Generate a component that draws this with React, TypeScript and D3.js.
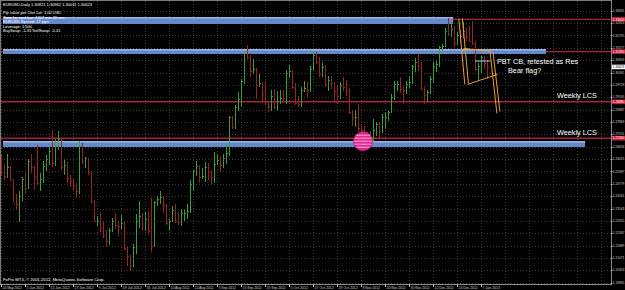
import React from "react";
import * as d3 from "d3";

const barDates = ["May24","May25","May28","May29","May30","May31","Jun1","Jun4","Jun5","Jun6","Jun7","Jun8","Jun11","Jun12","Jun13","Jun14","Jun15","Jun18","Jun19","Jun20","Jun21","Jun22","Jun25","Jun26","Jun27","Jun28","Jun29","Jul2","Jul3","Jul4","Jul5","Jul6","Jul9","Jul10","Jul11","Jul12","Jul13","Jul16","Jul17","Jul18","Jul19","Jul20","Jul23","Jul24","Jul25","Jul26","Jul27","Jul30","Jul31","Aug1","Aug2","Aug3","Aug6","Aug7","Aug8","Aug9","Aug10","Aug13","Aug14","Aug15","Aug16","Aug17","Aug20","Aug21","Aug22","Aug23","Aug24","Aug27","Aug28","Aug29","Aug30","Aug31","Sep3","Sep4","Sep5","Sep6","Sep7","Sep10","Sep11","Sep12","Sep13","Sep14","Sep17","Sep18","Sep19","Sep20","Sep21","Sep24","Sep25","Sep26","Sep27","Sep28","Oct1","Oct2","Oct3","Oct4","Oct5","Oct8","Oct9","Oct10","Oct11","Oct12","Oct15","Oct16","Oct17","Oct18","Oct19","Oct22","Oct23","Oct24","Oct25","Oct26","Oct29","Oct30","Oct31","Nov1","Nov2","Nov5","Nov6","Nov7","Nov8","Nov9","Nov12","Nov13","Nov14","Nov15","Nov16","Nov19","Nov20","Nov21","Nov22","Nov23","Nov26","Nov27","Nov28","Nov29","Nov30","Dec3","Dec4","Dec5","Dec6","Dec7","Dec10","Dec11","Dec12","Dec13","Dec14","Dec17","Dec18","Dec19","Dec20","Dec21","Dec24","Dec26","Dec27","Dec28","Dec31","Jan2","Jan3","Jan4","Jan7","Jan8","Jan9"];

const barOpen = [1.2575,1.2535,1.2515,1.2560,1.2495,1.2380,1.2375,1.2415,1.2500,1.2455,1.2590,1.2560,1.2515,1.2480,1.2500,1.2565,1.2600,1.2640,1.2580,1.2685,1.2700,1.2560,1.2570,1.2505,1.2490,1.2470,1.2440,1.2665,1.2590,1.2605,1.2535,1.2390,1.2290,1.2290,1.2255,1.2220,1.2190,1.2245,1.2290,1.2270,1.2265,1.2280,1.2155,1.2115,1.2065,1.2160,1.2290,1.2315,1.2270,1.2300,1.2240,1.2165,1.2385,1.2400,1.2410,1.2370,1.2280,1.2290,1.2345,1.2290,1.2285,1.2330,1.2330,1.2340,1.2475,1.2540,1.2565,1.2510,1.2515,1.2560,1.2535,1.2510,1.2575,1.2595,1.2570,1.2605,1.2630,1.2810,1.2760,1.2860,1.2900,1.2990,1.3130,1.3110,1.3040,1.3050,1.2970,1.2980,1.2925,1.2885,1.2865,1.2915,1.2860,1.2890,1.2905,1.2890,1.3030,1.3040,1.2960,1.2880,1.2875,1.2945,1.2955,1.2945,1.3050,1.3120,1.3085,1.3025,1.3060,1.2975,1.2995,1.2980,1.2940,1.2915,1.2970,1.2960,1.2945,1.2835,1.2810,1.2810,1.2755,1.2745,1.2710,1.2715,1.2710,1.2745,1.2775,1.2740,1.2810,1.2810,1.2835,1.2910,1.2975,1.2975,1.2950,1.2945,1.2975,1.2985,1.3065,1.3085,1.3065,1.2950,1.2920,1.2935,1.3000,1.3065,1.3075,1.3160,1.3165,1.3240,1.3225,1.3250,1.3180,1.3220,1.3215,1.3240,1.3215,1.3190,1.3180,1.3050,1.3065,1.3110,1.3080];

const barHigh = [1.2625,1.2575,1.2625,1.2565,1.2500,1.2425,1.2440,1.2510,1.2530,1.2600,1.2625,1.2565,1.2670,1.2530,1.2590,1.2620,1.2660,1.2747,1.2700,1.2740,1.2710,1.2595,1.2585,1.2520,1.2505,1.2480,1.2690,1.2680,1.2610,1.2605,1.2540,1.2395,1.2315,1.2330,1.2285,1.2245,1.2255,1.2305,1.2330,1.2290,1.2320,1.2285,1.2165,1.2120,1.2175,1.2325,1.2390,1.2330,1.2335,1.2340,1.2405,1.2390,1.2415,1.2443,1.2415,1.2375,1.2300,1.2365,1.2375,1.2335,1.2350,1.2345,1.2375,1.2495,1.2545,1.2590,1.2570,1.2555,1.2585,1.2580,1.2545,1.2635,1.2620,1.2615,1.2625,1.2670,1.2815,1.2815,1.2870,1.2935,1.3000,1.3130,1.3172,1.3120,1.3100,1.3055,1.3025,1.2985,1.2990,1.2890,1.2945,1.2950,1.2940,1.2945,1.2945,1.3045,1.3070,1.3045,1.2980,1.2915,1.2960,1.2990,1.2985,1.3065,1.3140,1.3135,1.3110,1.3085,1.3070,1.3015,1.3015,1.2985,1.2965,1.2985,1.3010,1.2995,1.2955,1.2845,1.2845,1.2875,1.2770,1.2765,1.2735,1.2740,1.2800,1.2785,1.2780,1.2825,1.2835,1.2840,1.2925,1.2990,1.2990,1.3010,1.2960,1.2990,1.3015,1.3070,1.3105,1.3125,1.3085,1.2960,1.2945,1.3015,1.3085,1.3090,1.3165,1.3178,1.3255,1.3308,1.3285,1.3265,1.3235,1.3245,1.3285,1.3255,1.3265,1.3292,1.3190,1.3082,1.3115,1.3118,1.3096];

const barLow = [1.2515,1.2495,1.2505,1.2490,1.2385,1.2345,1.2288,1.2390,1.2425,1.2450,1.2530,1.2445,1.2475,1.2440,1.2480,1.2540,1.2570,1.2560,1.2565,1.2645,1.2545,1.2520,1.2480,1.2460,1.2440,1.2405,1.2425,1.2575,1.2555,1.2520,1.2380,1.2285,1.2265,1.2235,1.2205,1.2163,1.2170,1.2235,1.2250,1.2215,1.2250,1.2145,1.2065,1.2042,1.2060,1.2125,1.2255,1.2245,1.2240,1.2225,1.2135,1.2160,1.2365,1.2375,1.2330,1.2270,1.2240,1.2285,1.2280,1.2270,1.2265,1.2290,1.2300,1.2330,1.2440,1.2515,1.2480,1.2500,1.2485,1.2495,1.2475,1.2480,1.2575,1.2535,1.2555,1.2575,1.2615,1.2750,1.2750,1.2840,1.2865,1.2975,1.3100,1.3010,1.3025,1.2900,1.2960,1.2880,1.2870,1.2835,1.2840,1.2850,1.2845,1.2875,1.2880,1.2875,1.3005,1.2950,1.2870,1.2860,1.2860,1.2935,1.2905,1.2935,1.3040,1.3075,1.3010,1.3010,1.2960,1.2940,1.2950,1.2880,1.2880,1.2900,1.2940,1.2915,1.2825,1.2765,1.2760,1.2735,1.2715,1.2695,1.2690,1.2661,1.2690,1.2715,1.2700,1.2730,1.2750,1.2790,1.2830,1.2895,1.2940,1.2930,1.2875,1.2925,1.2955,1.2975,1.3035,1.3040,1.2945,1.2875,1.2885,1.2925,1.2980,1.3035,1.3060,1.3140,1.3160,1.3215,1.3210,1.3160,1.3170,1.3180,1.3205,1.3190,1.3185,1.3170,1.3040,1.2998,1.3030,1.3050,1.3001];

const barClose = [1.2535,1.2515,1.2560,1.2495,1.2380,1.2375,1.2415,1.2500,1.2455,1.2590,1.2560,1.2515,1.2480,1.2500,1.2565,1.2600,1.2640,1.2580,1.2685,1.2700,1.2560,1.2570,1.2505,1.2490,1.2470,1.2440,1.2665,1.2590,1.2605,1.2535,1.2390,1.2290,1.2290,1.2255,1.2220,1.2190,1.2245,1.2290,1.2270,1.2265,1.2280,1.2155,1.2115,1.2065,1.2160,1.2290,1.2315,1.2270,1.2300,1.2240,1.2165,1.2385,1.2400,1.2410,1.2370,1.2280,1.2290,1.2345,1.2290,1.2285,1.2330,1.2330,1.2340,1.2475,1.2540,1.2565,1.2510,1.2515,1.2560,1.2535,1.2510,1.2575,1.2595,1.2570,1.2605,1.2630,1.2810,1.2760,1.2860,1.2900,1.2990,1.3130,1.3110,1.3040,1.3050,1.2970,1.2980,1.2925,1.2885,1.2865,1.2915,1.2860,1.2890,1.2905,1.2890,1.3030,1.3040,1.2960,1.2880,1.2875,1.2945,1.2955,1.2945,1.3050,1.3120,1.3085,1.3025,1.3060,1.2975,1.2995,1.2980,1.2940,1.2915,1.2970,1.2960,1.2945,1.2835,1.2810,1.2810,1.2755,1.2745,1.2710,1.2715,1.2710,1.2745,1.2775,1.2740,1.2810,1.2810,1.2835,1.2910,1.2975,1.2975,1.2950,1.2945,1.2975,1.2985,1.3065,1.3085,1.3065,1.2950,1.2920,1.2935,1.3000,1.3065,1.3075,1.3160,1.3165,1.3240,1.3225,1.3250,1.3180,1.3220,1.3215,1.3240,1.3215,1.3190,1.3180,1.3050,1.3065,1.3110,1.3080,1.3062];

const dateLabels = ["24 May 2012","5 Jun 2012","15 Jun 2012","27 Jun 2012","9 Jul 2012","19 Jul 2012","31 Jul 2012","10 Aug 2012","22 Aug 2012","3 Sep 2012","13 Sep 2012","25 Sep 2012","5 Oct 2012","17 Oct 2012","29 Oct 2012","8 Nov 2012","20 Nov 2012","30 Nov 2012","12 Dec 2012","24 Dec 2012","7 Jan 2013"];
const dateLabelStep = 8;

const priceTicks = [1.19835,1.20453,1.21071,1.21689,1.22307,1.22925,1.23543,1.24161,1.24779,1.25397,1.26015,1.26633,1.27251,1.27869,1.28487,1.29105,1.29723,1.30341,1.30959,1.31577,1.32195,1.32813,1.33431];

const redLevels = [1.3300, 1.3139, 1.2888, 1.2706];
const bandTop = [1.3312, 1.3152, 1.2692];
const bandBottom = [1.3277, 1.3127, 1.2662];
const bandEndBar = [150.7, 181.7, 194.7];

const bidPrice = 1.30623;

const infoLines = [
  "EURUSD,Daily  1.30821 1.30962 1.30011 1.30623",
  "",
  "Pip value per One Lot: 1.00 USD",
  "Time for next bar: 1307 min 39 sec",
  "EURUSD Spread: 17 pips",
  "Leverage: 1:500",
  "BuySwap: -1.33   SellSwap: -0.41",
];

const flagLines: [number, number, number, number][] = [
  [152.6, 1.3305, 154.6, 1.2975],
  [153.8, 1.3305, 155.8, 1.2980],
  [154.3, 1.3155, 163.0, 1.3140],
  [155.5, 1.2975, 165.5, 1.3025],
  [163.0, 1.3140, 165.3, 1.2830],
  [164.0, 1.3138, 166.3, 1.2840],
];
const pbtLine = [158.0, 163.0, 1.3092];

const notes = [
  { text: "PBT CB, retested as Res", bar: 165.3, price: 1.3078 },
  { text: "Bear flag?", bar: 169.0, price: 1.3030 },
  { text: "Weekly LCS", bar: 185.3, price: 1.2905 },
  { text: "Weekly LCS", bar: 185.3, price: 1.2722 },
];
const circleMark = { bar: 120.7, price: 1.2691 };

const W = 625, H = 290;
const plotRight = 611;
const plotBottom = 284;

export default function App() {
  const y = d3.scaleLinear().domain([1.19835, 1.33435]).range([282.7, 10.7]);
  const x = d3.scaleLinear().domain([0, 160]).range([1, 481]);
  const up = "#35a035";
  const down = "#9c2323";
  const small = "'Liberation Sans', Arial, sans-serif";
  const arial = "'Liberation Sans', Arial, sans-serif";
  const axisFont = 3.2;

  const gridX = dateLabels.map((_, k) => x(k * dateLabelStep));
  const extraGridX = [x(168), x(176), x(184), x(192), x(200)];

  return (
    <svg width={W} height={H} style={{ position: "fixed", left: 0, top: 0, background: "#000" }}>
      <rect x={0} y={0} width={W} height={H} fill="#000" />
      {[...gridX, ...extraGridX].filter((gx) => gx < plotRight).map((gx, i) => (
        <line key={"gx" + i} x1={Math.round(gx) + 0.5} x2={Math.round(gx) + 0.5} y1={1} y2={plotBottom} stroke="#3c3c3c" strokeDasharray="1,2" />
      ))}
      {priceTicks.map((p, i) => (
        <line key={"gy" + i} x1={1} x2={plotRight} y1={Math.round(y(p)) + 0.5} y2={Math.round(y(p)) + 0.5} stroke="#3c3c3c" strokeDasharray="1,2" />
      ))}
      {redLevels.map((p, i) => (
        <line key={"rl" + i} x1={1} x2={plotRight} y1={y(p)} y2={y(p)} stroke="#a8223a" strokeWidth={1.4} />
      ))}
      {bandTop.map((t, i) => (
        <g key={"bd" + i}>
          <rect x={3} y={y(t)} width={x(bandEndBar[i]) - 3} height={y(bandBottom[i]) - y(t)} fill="#6489c8" />
          <rect x={3} y={y(t)} width={x(bandEndBar[i]) - 3} height={1.5} fill="#9bb6e6" />
        </g>
      ))}
      {barDates.map((d, i) => {
        const cx = Math.round(x(i)) + 0.5;
        const c = barClose[i] >= barOpen[i] ? up : down;
        return (
          <g key={d} stroke={c} strokeWidth={1} shapeRendering="crispEdges">
            <line x1={cx} x2={cx} y1={y(barHigh[i])} y2={y(barLow[i])} />
            <line x1={cx - 1} x2={cx} y1={Math.round(y(barOpen[i])) + 0.5} y2={Math.round(y(barOpen[i])) + 0.5} />
            <line x1={cx} x2={cx + 1} y1={Math.round(y(barClose[i])) + 0.5} y2={Math.round(y(barClose[i])) + 0.5} />
          </g>
        );
      })}
      <g>
        <circle cx={x(circleMark.bar)} cy={y(circleMark.price)} r={9.5} fill="#e0288e" />
        {[-6, -3, 0, 3, 6].map((dy, i) => (
          <line key={"cs" + i} x1={x(circleMark.bar) - Math.sqrt(Math.max(0, 90 - dy * dy))} x2={x(circleMark.bar) + Math.sqrt(Math.max(0, 90 - dy * dy))} y1={y(circleMark.price) + dy} y2={y(circleMark.price) + dy} stroke="#ffa6d8" strokeWidth={1} />
        ))}
        <circle cx={x(circleMark.bar)} cy={y(circleMark.price)} r={9.5} fill="none" stroke="#c01878" strokeWidth={0.8} />
      </g>
      {flagLines.map((l, i) => (
        <line key={"fl" + i} x1={x(l[0])} y1={y(l[1])} x2={x(l[2])} y2={y(l[3])} stroke="#f0a030" strokeWidth={1} />
      ))}
      <line x1={x(pbtLine[0])} x2={x(pbtLine[1])} y1={y(pbtLine[2])} y2={y(pbtLine[2])} stroke="#a8d4ec" strokeWidth={1} />
      {notes.map((n, i) => (
        <text key={"nt" + i} x={x(n.bar)} y={y(n.price)} fill="#ffffff" fontSize={7.3} fontFamily={arial}>{n.text}</text>
      ))}
      {infoLines.map((t, i) => (
        <text key={"in" + i} x={3} y={5.5 + i * 4.4} fill="#ffffff" fontSize={4} fontFamily={small}>{t}</text>
      ))}
      <text x={3} y={281} fill="#ffffff" fontSize={4.2} fontFamily={small}>FxPro MT4, © 2001-2012, MetaQuotes Software Corp.</text>
      <line x1={0.5} x2={0.5} y1={0} y2={plotBottom} stroke="#7a7a7a" />
      <line x1={0} x2={plotRight} y1={0.5} y2={0.5} stroke="#7a7a7a" />
      <line x1={plotRight + 0.5} x2={plotRight + 0.5} y1={0} y2={plotBottom + 1} stroke="#8a8a8a" />
      <line x1={0} x2={plotRight + 1} y1={plotBottom + 0.5} y2={plotBottom + 0.5} stroke="#8a8a8a" />
      {priceTicks.map((p, i) => (
        <g key={"pt" + i}>
          <line x1={plotRight} x2={plotRight + 1.5} y1={Math.round(y(p)) + 0.5} y2={Math.round(y(p)) + 0.5} stroke="#bbbbbb" />
          <text x={plotRight + 1.8} y={y(p) + 1.1} fill="#d0d0d0" fontSize={axisFont} fontFamily={small}>{p.toFixed(5)}</text>
        </g>
      ))}
      {redLevels.map((p, i) => (
        <g key={"rlab" + i}>
          <rect x={plotRight + 1} y={y(p) - 2.3} width={W - plotRight} height={4.6} fill="#c8203e" />
          <text x={plotRight + 1.8} y={y(p) + 1.1} fill="#ffffff" fontSize={axisFont} fontFamily={small}>{p.toFixed(5)}</text>
        </g>
      ))}
      <rect x={plotRight + 1} y={y(bidPrice) - 2.3} width={W - plotRight} height={4.6} fill="#ffffff" />
      <text x={plotRight + 1.8} y={y(bidPrice) + 1.1} fill="#000000" fontSize={axisFont} fontFamily={small}>{bidPrice.toFixed(5)}</text>
      {dateLabels.map((t, k) => (
        <g key={"dl" + k}>
          <line x1={Math.round(x(k * dateLabelStep)) + 0.5} x2={Math.round(x(k * dateLabelStep)) + 0.5} y1={plotBottom} y2={plotBottom + 3} stroke="#bbbbbb" />
          <text x={x(k * dateLabelStep) + 1.5} y={289} fill="#d0d0d0" fontSize={4} fontFamily={small} textLength={t.length * 1.75} lengthAdjust="spacingAndGlyphs">{t}</text>
        </g>
      ))}
    </svg>
  );
}
